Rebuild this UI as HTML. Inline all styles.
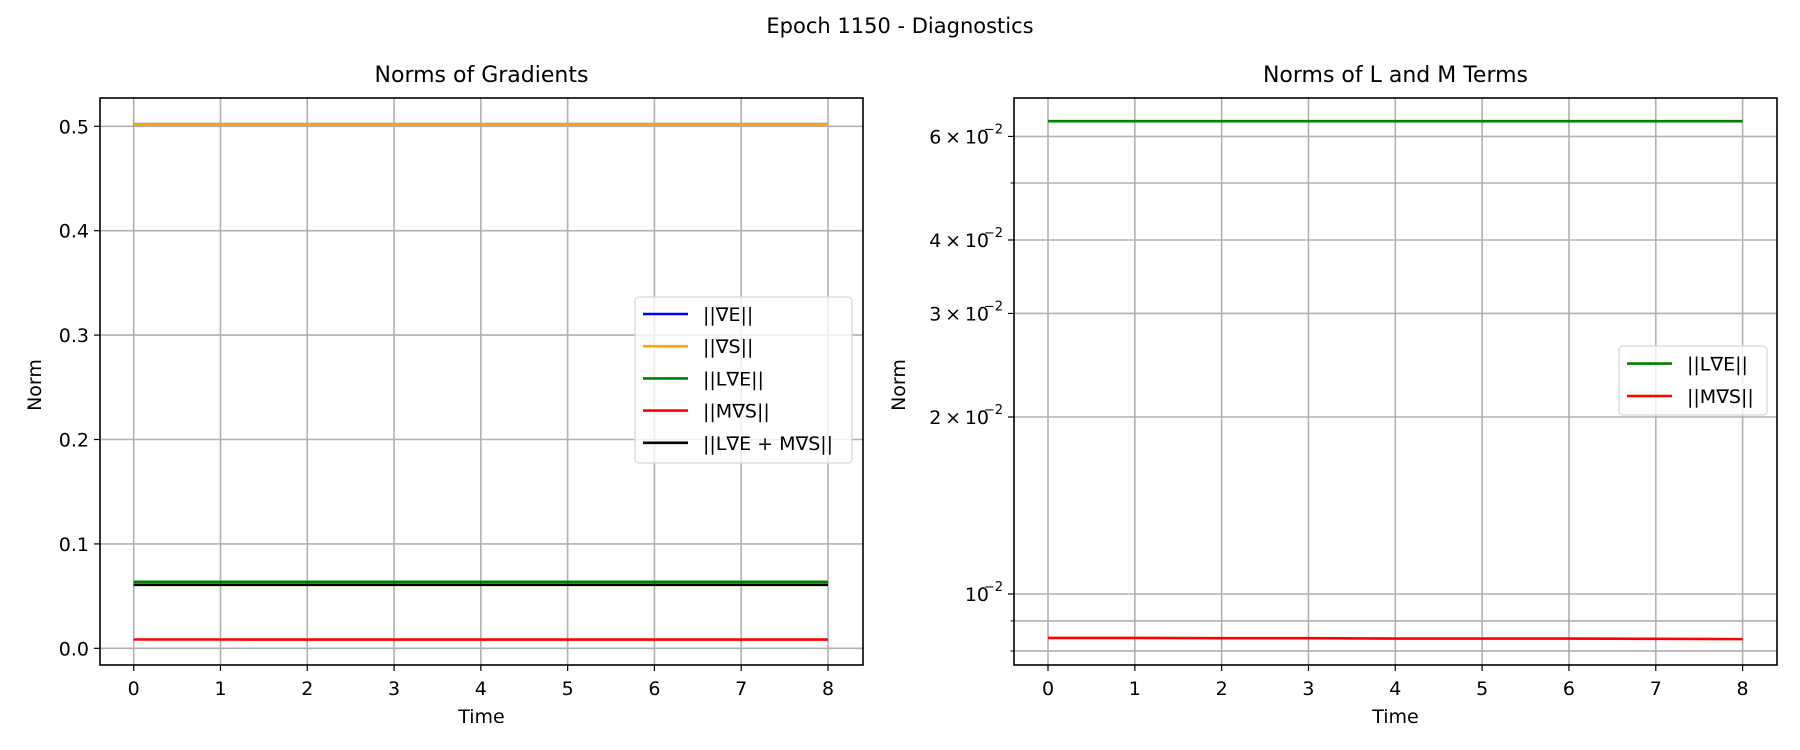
<!DOCTYPE html>
<html><head><meta charset="utf-8"><style>
body{margin:0;background:#fff}
svg{display:block;font-family:"DejaVu Sans","Liberation Sans",sans-serif}
</style></head><body>
<svg id="fig" width="1800" height="750" viewBox="0 0 1800 750">
<rect width="1800" height="750" fill="#fff"/>
<text x="900" y="33" font-size="21" text-anchor="middle">Epoch 1150 - Diagnostics</text>
<g id="left"></g>
<g id="right"></g>
</svg>
<script>
const times = [0,1,2,3,4,5,6,7,8];
const xTicks = [0,1,2,3,4,5,6,7,8];
const gradE = [0.502,0.502,0.502,0.502,0.502,0.502,0.502,0.502,0.502];
const gradS = [0.502,0.502,0.502,0.502,0.502,0.502,0.502,0.502,0.502];
const lGradE = [0.0637,0.0637,0.0637,0.0637,0.0637,0.0637,0.0637,0.0637,0.0637];
const mGradS = [0.00842,0.00842,0.00841,0.00841,0.0084,0.0084,0.0084,0.00839,0.00838];
const combined = [0.0608,0.0608,0.0608,0.0608,0.0608,0.0608,0.0608,0.0608,0.0608];
const leftYTicks = [0,0.1,0.2,0.3,0.4,0.5];
const leftYLabels = ["0.0","0.1","0.2","0.3","0.4","0.5"];
const rightMajor = [0.01,0.02,0.03,0.04,0.06];
const rightMinor = [0.008,0.009,0.05];

const NS="http://www.w3.org/2000/svg";
function mk(parent,tag,attrs,txt){const e=document.createElementNS(NS,tag);for(const k in attrs)e.setAttribute(k,attrs[k]);if(txt!==undefined)e.textContent=txt;parent.appendChild(e);return e;}

function drawAxes(g,L,R,T,B,xs,ys,yTickVals,yLabelFn,minorVals,title,series,legend){
  mk(g,'text',{x:(L+R)/2,y:T-16,'font-size':22,'text-anchor':'middle',},title);
  const grid=mk(g,'g',{});
  
  
  xTicks.forEach(t=>{const x=xs(t);
    mk(grid,'line',{x1:x,x2:x,y1:T,y2:B,stroke:'#b0b0b0','stroke-width':1.6});
    mk(g,'line',{x1:x,x2:x,y1:B,y2:B+6,stroke:'#000','stroke-width':1.2});
    const lb=mk(g,'text',{x:x,y:B+30,'font-size':19,'text-anchor':'middle'},String(t));
    
    
  });
  yTickVals.forEach((v,i)=>{const y=ys(v);
    mk(grid,'line',{x1:L,x2:R,y1:y,y2:y,stroke:'#b0b0b0','stroke-width':1.6});
    mk(g,'line',{x1:L-6,x2:L,y1:y,y2:y,stroke:'#000','stroke-width':1.2});
    yLabelFn(g,v,i,L-11,y);
  });
  minorVals.forEach(v=>{const y=ys(v);
    mk(grid,'line',{x1:L,x2:R,y1:y,y2:y,stroke:'#b0b0b0','stroke-width':1.6});
    mk(g,'line',{x1:L-3.5,x2:L,y1:y,y2:y,stroke:'#000','stroke-width':1});
  });
  series.forEach(s=>{
    const p=mk(g,'polyline',{points:times.map((t,i)=>xs(t)+','+ys(s.v[i])).join(' '),fill:'none',stroke:s.c,'stroke-width':2.6});
    
    
  });
  mk(g,'rect',{x:L,y:T,width:R-L,height:B-T,fill:'none',stroke:'#000','stroke-width':1.6});
  const xl=mk(g,'text',{x:(L+R)/2,y:B+58,'font-size':19,'text-anchor':'middle'},'Time');
  
  
  const lg=mk(g,'g',{});
  
  
  mk(lg,'rect',{x:legend.x,y:legend.y,width:legend.w,height:legend.h,rx:4,fill:'#fff','fill-opacity':0.8,stroke:'#d6d6d6','stroke-width':1.3});
  legend.items.forEach((it,i)=>{const y=legend.y0+i*legend.dy;
    const e=mk(lg,'g',{});
    
    
    mk(e,'line',{x1:legend.x+8,x2:legend.x+53,y1:y,y2:y,stroke:it.c,'stroke-width':2.6});
    mk(e,'text',{x:legend.x+68,y:y+7,'font-size':19},it.t);
  });
}

// left
{
  const L=100,R=863,T=98,B=665;
  const xs=t=>133.7+(t-0)*(828-133.7)/8;
  const ys=v=>648.3-v*1044;
  const g=document.getElementById('left');
  drawAxes(g,L,R,T,B,xs,ys,leftYTicks,(g,v,i,x,y)=>{const t=mk(g,'text',{x:x,y:y+7,'font-size':19,'text-anchor':'end'},leftYLabels[i]);
    },[],'Norms of Gradients',
    [{v:gradE,c:'#0000ff',n:'line-grad-e'},{v:gradS,c:'#ffa500',n:'line-grad-s'},{v:lGradE,c:'#008000',n:'line-l-grad-e'},{v:mGradS,c:'#ff0000',n:'line-m-grad-s'},{v:combined,c:'#000000',n:'line-combined'}],
    {x:635,y:297,w:217,h:166,y0:314,dy:32.2,items:[{c:'#0000ff',t:'||∇E||'},{c:'#ffa500',t:'||∇S||'},{c:'#008000',t:'||L∇E||'},{c:'#ff0000',t:'||M∇S||'},{c:'#000000',t:'||L∇E + M∇S||'}]});
  const yl=mk(g,'text',{x:0,y:0,'font-size':19,'text-anchor':'middle',transform:'translate(41,385) rotate(-90)'},'Norm');
  
}
// right
{
  const L=1014,R=1777,T=98,B=665;
  const xs=t=>1048+(t-0)*(1742.6-1048)/8;
  const ys=v=>594-(Math.log10(v)+2)*588;
  const g=document.getElementById('right');
  drawAxes(g,L,R,T,B,xs,ys,rightMajor,(g,v,i,x,y)=>{
    const m=Math.round(v*100);
    const t=mk(g,'text',{x:x-14,y:y+7,'font-size':19,'text-anchor':'end'},(m===1?'':m+'\u2009×\u2009')+'10');
    
    mk(g,'text',{x:x,y:y-3,'font-size':13,'text-anchor':'end'},'−2');
  },rightMinor,'Norms of L and M Terms',
    [{v:lGradE,c:'#008000',n:'line-l-grad-e'},{v:mGradS,c:'#ff0000',n:'line-m-grad-s'}],
    {x:1619,y:346,w:148,h:69,y0:363.6,dy:32.4,items:[{c:'#008000',t:'||L∇E||'},{c:'#ff0000',t:'||M∇S||'}]});
  const yl=mk(g,'text',{x:0,y:0,'font-size':19,'text-anchor':'middle',transform:'translate(905,385) rotate(-90)'},'Norm');
  
}
</script>
</body></html>
